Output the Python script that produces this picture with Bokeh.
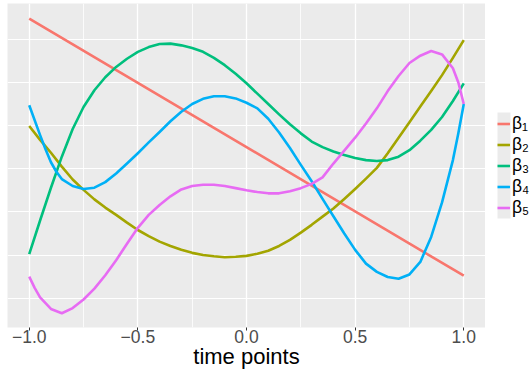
from bokeh.plotting import figure
from bokeh.models import Range1d, FixedTicker, Grid, Legend, LegendItem, BoxAnnotation
from bokeh.layouts import row
from bokeh.core.properties import value
from bokeh.embed import file_html
from bokeh.resources import INLINE

# ---- data ----
series_names = ["β₁", "β₂", "β₃", "β₄", "β₅"]
series_colors = ["#F8766D", "#A3A500", "#00BF7D", "#00B0F6", "#E76BF3"]

b1_x = [-1.0, 0.0, 1.0]
b1_y = [3.48, 0.50, -2.48]

b2_x = [-1.0, -0.95, -0.9, -0.85, -0.8, -0.75, -0.7, -0.65, -0.6, -0.55, -0.5, -0.45, -0.4, -0.35,
        -0.3, -0.25, -0.2, -0.15, -0.1, -0.05, 0.0, 0.05, 0.1, 0.15, 0.2, 0.25, 0.3, 0.35, 0.4,
        0.45, 0.5, 0.55, 0.6, 0.65, 0.7, 0.75, 0.8, 0.85, 0.9, 0.95, 1.0]
b2_y = [0.99, 0.67, 0.37, 0.05, -0.25, -0.49, -0.71, -0.90, -1.07, -1.25, -1.42, -1.56, -1.69, -1.79,
        -1.88, -1.95, -2.00, -2.03, -2.05, -2.04, -2.02, -1.97, -1.90, -1.79, -1.65, -1.48, -1.30, -1.11, -0.92,
        -0.70, -0.47, -0.23, 0.02, 0.36, 0.72, 1.08, 1.44, 1.80, 2.17, 2.57, 2.98]

b3_x = [-1.0, -0.95, -0.9, -0.85, -0.8, -0.75, -0.7, -0.65, -0.6, -0.55, -0.5, -0.45, -0.4, -0.35,
        -0.3, -0.25, -0.2, -0.15, -0.1, -0.05, 0.0, 0.05, 0.1, 0.15, 0.2, 0.25, 0.3, 0.35, 0.4,
        0.45, 0.5, 0.55, 0.6, 0.65, 0.7, 0.75, 0.8, 0.85, 0.9, 0.95, 1.0]
b3_y = [-1.98, -1.20, -0.44, 0.28, 0.92, 1.43, 1.82, 2.12, 2.36, 2.55, 2.71, 2.82, 2.89, 2.90,
        2.86, 2.80, 2.71, 2.57, 2.40, 2.20, 1.98, 1.74, 1.50, 1.26, 1.03, 0.82, 0.63, 0.50, 0.40,
        0.32, 0.25, 0.20, 0.18, 0.20, 0.28, 0.43, 0.65, 0.90, 1.20, 1.57, 1.98]

b4_x = [-1.0, -0.95, -0.925, -0.9, -0.875, -0.85, -0.8, -0.75, -0.7, -0.65, -0.6, -0.55, -0.5, -0.45,
        -0.4, -0.35, -0.3, -0.25, -0.2, -0.15, -0.1, -0.05, 0.0, 0.05, 0.1, 0.15, 0.2, 0.25, 0.3,
        0.35, 0.4, 0.45, 0.5, 0.55, 0.6, 0.65, 0.7, 0.75, 0.8, 0.85, 0.9, 0.95, 0.975, 1.0]
b4_y = [1.47, 0.78, 0.45, 0.15, -0.07, -0.24, -0.40, -0.47, -0.44, -0.31, -0.11, 0.12, 0.36, 0.61,
        0.85, 1.10, 1.32, 1.50, 1.62, 1.68, 1.68, 1.63, 1.53, 1.40, 1.16, 0.84, 0.48, 0.09, -0.29,
        -0.70, -1.10, -1.50, -1.88, -2.20, -2.39, -2.51, -2.55, -2.45, -2.16, -1.58, -0.78, 0.20, 0.82, 1.50]

b5_x = [-1.0, -0.975, -0.95, -0.9, -0.85, -0.8, -0.75, -0.7, -0.65, -0.6, -0.55, -0.5, -0.45, -0.4,
        -0.35, -0.3, -0.25, -0.2, -0.15, -0.1, -0.05, 0.0, 0.05, 0.1, 0.15, 0.2, 0.25, 0.3, 0.35,
        0.4, 0.45, 0.5, 0.55, 0.6, 0.65, 0.7, 0.75, 0.8, 0.85, 0.9, 0.95, 0.975, 1.0]
b5_y = [-2.50, -2.76, -2.98, -3.25, -3.35, -3.23, -3.03, -2.78, -2.47, -2.12, -1.74, -1.37, -1.07, -0.84,
        -0.64, -0.48, -0.40, -0.37, -0.37, -0.40, -0.45, -0.50, -0.54, -0.57, -0.57, -0.52, -0.45, -0.35, -0.20,
        0.12, 0.42, 0.72, 1.05, 1.40, 1.80, 2.15, 2.45, 2.62, 2.73, 2.65, 2.33, 2.00, 1.50]

series_x = [b1_x, b2_x, b3_x, b4_x, b5_x]
series_y = [b1_y, b2_y, b3_y, b4_y, b5_y]

x_ticks = [-1.0, -0.5, 0.0, 0.5, 1.0]
x_tick_labels = ["\u22121.0", "\u22120.5", "0.0", "0.5", "1.0"]
x_minor_ticks = [-0.75, -0.25, 0.25, 0.75]
y_grid_values = [-3, -2, -1, 0, 1, 2, 3]
x_title = "time points"

FONT = "Liberation Sans"
PANEL = "#EBEBEB"

# ---------------- main plot ----------------
p = figure(width=485, height=376,
           x_range=Range1d(-1.1, 1.1), y_range=Range1d(-3.68, 3.83),
           y_axis_type=None,
           output_backend="svg", toolbar_location=None,
           min_border_left=7, min_border_right=0, min_border_top=3, min_border_bottom=49,
           background_fill_color=PANEL, border_fill_color="white",
           outline_line_color=None)

xt = FixedTicker(ticks=x_ticks, minor_ticks=x_minor_ticks)
p.xaxis.ticker = xt
p.xgrid.ticker = xt
p.xgrid.grid_line_color = "white"
p.xgrid.grid_line_width = 1.3
p.xgrid.minor_grid_line_color = "white"
p.xgrid.minor_grid_line_width = 0.8

yg = Grid(dimension=1, ticker=FixedTicker(ticks=y_grid_values),
          grid_line_color="white", grid_line_width=1.1)
p.add_layout(yg, "center")

ax = p.xaxis[0]
ax.major_label_overrides = dict(zip(x_ticks, x_tick_labels))
ax.axis_line_color = None
ax.major_tick_line_color = "#333333"
ax.major_tick_line_width = 1
ax.major_tick_out = 3
ax.major_tick_in = 0
ax.minor_tick_line_color = None
ax.major_label_text_font = FONT
ax.major_label_text_font_size = "17.5px"
ax.major_label_text_color = "#4D4D4D"
ax.major_label_standoff = -2
ax.axis_label = x_title
ax.axis_label_text_font = FONT
ax.axis_label_text_font_size = "22px"
ax.axis_label_text_font_style = "normal"
ax.axis_label_text_color = "black"
ax.axis_label_standoff = -2

for xs, ys, c in zip(series_x, series_y, series_colors):
    p.line(xs, ys, line_color=c, line_width=2.6, line_join="round")

# ---------------- legend strip (frame aligned with the main plot's frame) ----------------
lg = figure(width=45, height=376, x_range=Range1d(0, 45), y_range=Range1d(0, 324),
            x_axis_type=None, y_axis_type=None,
            output_backend="svg", toolbar_location=None,
            min_border_left=0, min_border_right=0, min_border_top=3, min_border_bottom=49,
            background_fill_color="white", border_fill_color="white",
            outline_line_color=None)
lg.xgrid.visible = False
lg.ygrid.visible = False

key_renderers = []
for xs, ys, c in zip(series_x, series_y, series_colors):
    r = lg.line(xs, ys, line_color=c, line_width=2.6, visible=False)
    key_renderers.append(r)

key_bg = BoxAnnotation(left=12, right=25, bottom=109, top=215,
                       fill_color=PANEL, fill_alpha=1.0, line_color=None)
lg.add_layout(key_bg)

legend = Legend(items=[LegendItem(label=value(n), renderers=[r]) for n, r in zip(series_names, key_renderers)],
                location=(12, 109), orientation="vertical",
                glyph_width=13, glyph_height=21, label_height=21, label_width=10,
                spacing=0, padding=0, margin=0, label_standoff=2,
                background_fill_alpha=0, border_line_color=None,
                label_text_font=FONT, label_text_font_size="17.5px",
                label_text_color="black")
lg.add_layout(legend)

layout = row(p, lg, spacing=0)
open("out.html", "w").write(file_html(layout, INLINE))
